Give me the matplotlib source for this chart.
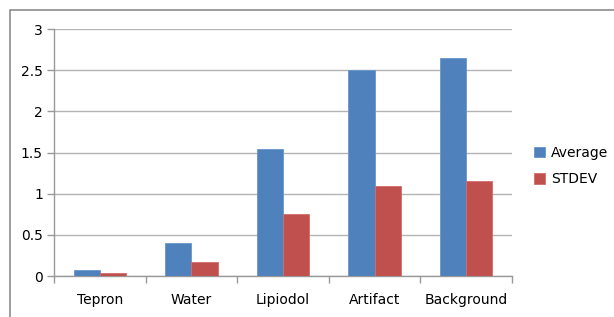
import matplotlib
matplotlib.use("Agg")
import matplotlib.pyplot as plt
import numpy as np
from matplotlib.patches import Rectangle

categories = ["Tepron", "Water", "Lipiodol", "Artifact", "Background"]
average = [0.08, 0.40, 1.55, 2.50, 2.65]
stdev = [0.04, 0.17, 0.75, 1.09, 1.16]
yticks = [0, 0.5, 1, 1.5, 2, 2.5, 3]
ytick_labels = ["0", "0.5", "1", "1.5", "2", "2.5", "3"]

plt.rcParams["font.family"] = ["DejaVu Sans"]

fig = plt.figure(figsize=(6.14, 3.17), dpi=100)
ax = fig.add_axes([0.088, 0.129, 0.746, 0.779])

# outer chart frame
fig.patches.append(Rectangle((10 / 614, -0.1), 1.2, 1 - 10 / 317 + 0.1,
                             transform=fig.transFigure, fill=False,
                             edgecolor="#8c8c8c", linewidth=1.2))

x = np.arange(len(categories))
w = 1 / 3.5
ax.bar(x - w / 2, average, w, color="#4F81BD", edgecolor="#6a96cc",
       linewidth=0.6, label="Average", zorder=3)
ax.bar(x + w / 2, stdev, w, color="#C0504D", edgecolor="#d26e6b",
       linewidth=0.6, label="STDEV", zorder=3)

ax.set_xlim(-0.5, len(categories) - 0.5)
ax.set_ylim(0, 3)
ax.set_yticks(yticks)
ax.set_yticklabels(ytick_labels, fontsize=10)
ax.set_xticks(x)
ax.set_xticklabels(categories, fontsize=10)
ax.tick_params(axis="x", length=0, pad=12)
ax.set_xticks(np.arange(-0.5, len(categories)), minor=True)
ax.tick_params(axis="x", which="minor", length=5, color="#999999", width=1)
ax.tick_params(axis="y", length=5, color="#999999", width=1, pad=3)

ax.grid(axis="y", color="#b3b3b3", linewidth=1, zorder=0)
for s in ["top", "right"]:
    ax.spines[s].set_visible(False)
for s in ["left", "bottom"]:
    ax.spines[s].set_color("#999999")
    ax.spines[s].set_linewidth(1)

ax.legend(loc="center left", bbox_to_anchor=(1.0, 0.445), frameon=False,
          fontsize=10, handlelength=0.8, handleheight=0.8,
          handletextpad=0.4, labelspacing=0.9, borderaxespad=1.2)

fig.savefig("out.png", dpi=100)
